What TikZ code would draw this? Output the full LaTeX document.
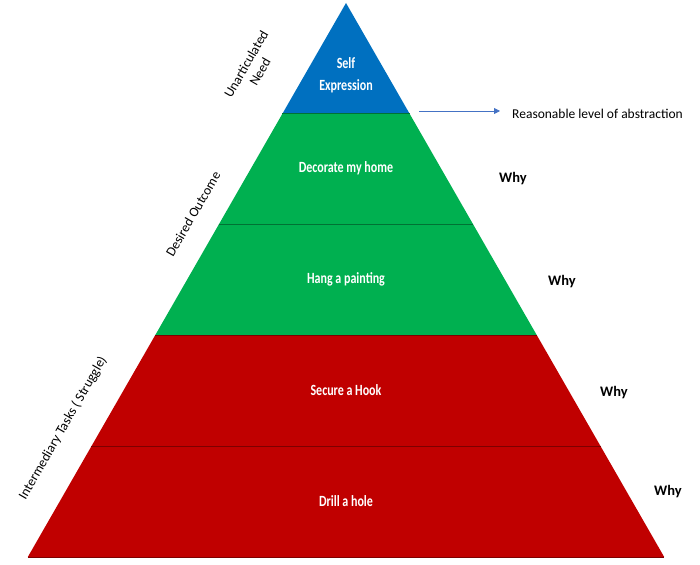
\documentclass[tikz,border=0pt]{standalone}
\usepackage{fontspec}
\setmainfont{Carlito}
\usepackage{graphicx}
\usepackage{tikz}
\usetikzlibrary{
  arrows.meta,
  positioning,
  calc
}
\definecolor{needblue}   {RGB}{0,  112, 192}
\definecolor{outgreen}   {RGB}{0,  176,  80}
\definecolor{taskred}    {RGB}{192,  0,   0}
\definecolor{arrowblue}  {RGB}{68, 114, 196}
\newcommand{\tallt}[1]{\scalebox{1}[1.3]{#1}}
\tikzset{
  band/.style={fill=#1, draw=none},
  divider/.style={draw=#1!65!black, line width=0.7pt},
  bandtext/.style={
    text=white, font=\fontsize{12}{15}\selectfont\bfseries,
    align=center, inner sep=1pt
  },
  whytext/.style={font=\fontsize{14.5}{17}\selectfont\bfseries, inner sep=1pt},
  sidetext/.style={
    font=\fontsize{13.5}{16}\selectfont, align=center,
    rotate=60, inner sep=1pt
  },
}

\begin{document}
\begin{tikzpicture}[x=1pt, y=-1pt]
\useasboundingbox (0,0) rectangle (700,564);

% ── Pyramid outline ───────────────────────────────────────────────────────────
\coordinate (apex) at (346,3);
\coordinate (bl)   at (27.8,557);
\coordinate (br)   at (664.2,557);

% ── Five bands, equal height ──────────────────────────────────────────────────
\foreach \i/\col in {1/outgreen, 2/outgreen, 3/taskred, 4/taskred}{
  \pgfmathsetmacro{\ta}{\i/5}
  \pgfmathsetmacro{\tb}{(\i+1)/5}
  \fill[band=\col]
    ($(apex)!\ta!(bl)$) -- ($(apex)!\tb!(bl)$) --
    ($(apex)!\tb!(br)$) -- ($(apex)!\ta!(br)$) -- cycle;
}
\fill[band=needblue] (apex) -- ($(apex)!0.2!(bl)$) -- ($(apex)!0.2!(br)$) -- cycle;

% ── Dividers ──────────────────────────────────────────────────────────────────
\draw[divider=outgreen] ($(apex)!0.2!(bl)$) -- ($(apex)!0.2!(br)$);
\draw[divider=outgreen] ($(apex)!0.4!(bl)$) -- ($(apex)!0.4!(br)$);
\draw[divider=taskred]  ($(apex)!0.6!(bl)$) -- ($(apex)!0.6!(br)$);
\draw[divider=taskred]  ($(apex)!0.8!(bl)$) -- ($(apex)!0.8!(br)$);
\draw[divider=taskred, line width=1pt] (bl) -- (br);

% ── Band labels ───────────────────────────────────────────────────────────────
\node[bandtext] (self)  at (346,75)    {\tallt{Self}\\[7pt]\tallt{Expression}};
\node[bandtext] (decor) at (346,168.5) {\tallt{Decorate my home}};
\node[bandtext] (hang)  at (346,279.5) {\tallt{Hang a painting}};
\node[bandtext] (hook)  at (346,390.5) {\tallt{Secure a Hook}};
\node[bandtext] (drill) at (346,501.5) {\tallt{Drill a hole}};

% ── Why ───────────────────────────────────────────────────────────────────────
\node[whytext] (why1) at (513,179) {Why};
\node[whytext] (why2) at (562,282) {Why};
\node[whytext] (why3) at (614,393) {Why};
\node[whytext] (why4) at (668,492) {Why};

% ── Abstraction arrow ─────────────────────────────────────────────────────────
\node[font=\fontsize{13.5}{16}\selectfont, anchor=west, inner sep=1pt]
  (abstr) at (511,114) {Reasonable level of abstraction};
\coordinate (abstart) at (419,111);
\draw[-{Triangle[length=6pt, width=6pt]}, arrowblue, line width=0.8pt]
  (abstart) -- ($(abstart -| abstr.west)+(-11,0)$);

% ── Side labels ───────────────────────────────────────────────────────────────
\node[sidetext] (need)  at (253,68)  {Unarticulated\\Need};
\node[sidetext] (outc)  at (193,214) {Desired Outcome};
\node[sidetext] (tasks) at (63,428)  {Intermediary Tasks ( Struggle)};

\end{tikzpicture}
\end{document}
